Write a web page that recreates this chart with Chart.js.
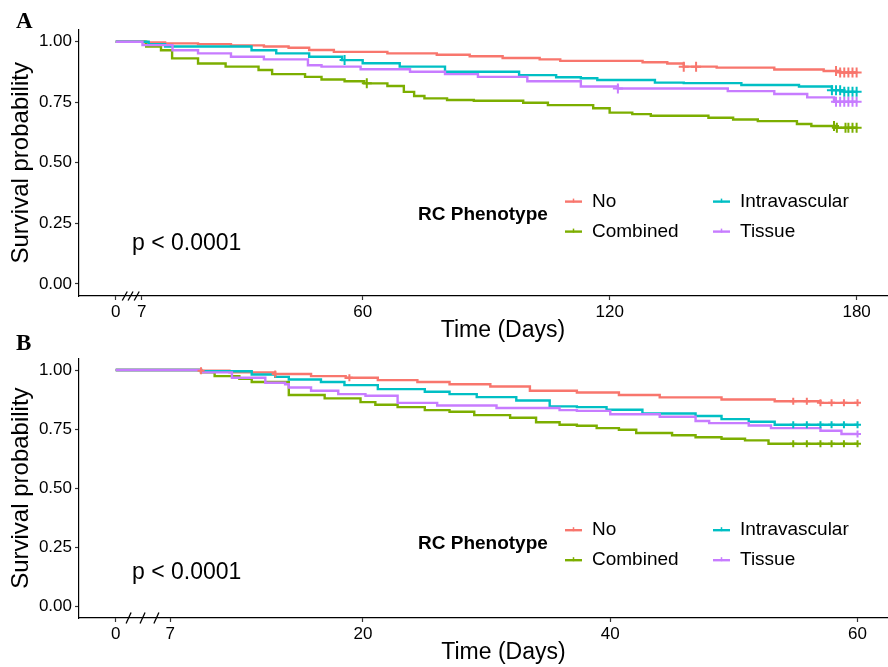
<!DOCTYPE html>
<html>
<head>
<meta charset="utf-8">
<script src="https://cdn.jsdelivr.net/npm/chart.js@4.4.1/dist/chart.umd.min.js"></script>
<style>
    html, body { margin: 0; padding: 0; background: #fff; overflow: hidden; width: 888px; height: 667px; }
    canvas { position: absolute; left: 0; }
    #chartA { top: 0; }
    #chartB { top: 345px; }
    .panelLabel { position: absolute; left: 16px; font: bold 23px "Liberation Serif", "Times New Roman", serif; line-height: 23px; color: #000; }
</style>
</head>
<body>
<canvas id="chartA" width="934" height="345"></canvas>
<canvas id="chartB" width="934" height="322"></canvas>
<div class="panelLabel" style="top:9px">A</div>
<div class="panelLabel" style="top:331px">B</div>
<script>
// grupos y colores (orden de la leyenda)
const groups = ['No', 'Combined', 'Intravascular', 'Tissue'];
const groupColors = ['#F8766D', '#7CAE00', '#00BFC4', '#C77CFF'];

// ---- Panel A: 180 dias ----
const noTimesA = [0, 7, 12, 20, 28, 36, 42, 47, 53, 66, 78, 86, 94, 103, 108, 128, 134, 138, 146, 160, 172, 176, 180];
const noSurvA = [1, 0.997, 0.993, 0.99, 0.985, 0.98, 0.975, 0.966, 0.958, 0.952, 0.946, 0.94, 0.933, 0.927, 0.921, 0.915, 0.91, 0.897, 0.893, 0.885, 0.879, 0.873, 0.873];
const noCensorA = [138, 141, 175, 176, 177, 178, 179, 180];

const combinedTimesA = [0, 7.4, 11, 13.7, 20, 26.7, 34.7, 38, 46, 50, 55.6, 60.4, 66, 70, 72.5, 75, 80.5, 87, 99, 105, 116, 120, 125.5, 130, 144, 150, 156, 165.5, 169, 175, 180];
const combinedSurvA = [1, 0.98, 0.965, 0.931, 0.91, 0.897, 0.883, 0.866, 0.855, 0.844, 0.837, 0.828, 0.817, 0.793, 0.776, 0.766, 0.759, 0.756, 0.748, 0.738, 0.725, 0.707, 0.701, 0.694, 0.686, 0.679, 0.672, 0.66, 0.652, 0.645, 0.645];
const combinedCensorA = [61, 174.5, 175.2, 177.3, 178, 179, 180];

const intraTimesA = [0, 8, 12, 33, 39, 47, 55, 60, 69, 80, 98, 107, 113, 117, 131, 138, 152, 166, 174, 177, 180];
const intraSurvA = [1, 0.99, 0.98, 0.965, 0.952, 0.938, 0.924, 0.911, 0.897, 0.876, 0.862, 0.853, 0.849, 0.842, 0.831, 0.829, 0.821, 0.815, 0.8, 0.793, 0.793];
const intraCensorA = [55.6, 174, 175, 176, 177, 178, 179, 180];

const tissueTimesA = [0, 6.5, 13.8, 20, 28, 36, 46.7, 50, 59.5, 71.5, 80, 88, 100, 113, 122, 148.7, 160, 168, 174.5, 180];
const tissueSurvA = [1, 0.986, 0.965, 0.952, 0.938, 0.927, 0.903, 0.897, 0.886, 0.876, 0.866, 0.855, 0.837, 0.815, 0.807, 0.796, 0.784, 0.77, 0.752, 0.752];
const tissueCensorA = [122, 175, 176, 177, 178, 179, 180];

const xTickValuesA = [0, 6.3, 60, 120, 180];
const xTickLabelsA = ['0', '7', '60', '120', '180'];
const axisBreaksA = [2.2, 3.6, 5.1];

// ---- Panel B: 60 dias ----
const noTimesB = [0, 6.9, 9.2, 12.9, 15.8, 18.6, 21.2, 24.4, 27, 30.3, 33.5, 37.3, 40.7, 44, 49, 53.3, 57, 60];
const noSurvB = [1, 0.997, 0.99, 0.983, 0.974, 0.967, 0.957, 0.949, 0.94, 0.93, 0.912, 0.905, 0.894, 0.884, 0.875, 0.868, 0.861, 0.861];
const noCensorB = [6.9, 12.9, 18.9, 54.8, 55.9, 57, 57.9, 58.9, 60];

const combinedTimesB = [0, 6.9, 8, 10, 11, 14, 16.9, 19.8, 21, 22.8, 25, 27, 29, 31.9, 34, 35.9, 37.3, 38.9, 40.7, 42.1, 45, 46.9, 49, 50.9, 52.8, 60];
const combinedSurvB = [1, 0.99, 0.974, 0.963, 0.949, 0.894, 0.88, 0.864, 0.853, 0.843, 0.83, 0.823, 0.809, 0.798, 0.779, 0.768, 0.764, 0.754, 0.747, 0.733, 0.724, 0.715, 0.709, 0.702, 0.688, 0.688];
const combinedCensorB = [54.8, 55.9, 57, 57.9, 58.9, 60];

const intraTimesB = [0, 6.9, 11, 12.9, 14, 16.6, 18.5, 21.2, 25, 27, 29.2, 32.4, 35.1, 37.3, 39.7, 42.6, 46.9, 49, 51.2, 53.3, 60];
const intraSurvB = [1, 0.995, 0.981, 0.971, 0.96, 0.949, 0.936, 0.919, 0.908, 0.898, 0.885, 0.871, 0.846, 0.843, 0.832, 0.816, 0.805, 0.792, 0.781, 0.768, 0.768];
const intraCensorB = [54.8, 55.9, 57, 57.9, 58.9, 60];

const tissueTimesB = [0, 6.9, 9.4, 12.1, 13.7, 14, 15.8, 18, 20.2, 22.8, 26, 30.8, 35.9, 37.3, 40, 44, 46.9, 48, 51.2, 53, 57, 58.7, 60];
const tissueSurvB = [1, 0.99, 0.967, 0.946, 0.94, 0.926, 0.912, 0.898, 0.891, 0.861, 0.85, 0.839, 0.83, 0.827, 0.813, 0.802, 0.784, 0.775, 0.765, 0.754, 0.743, 0.729, 0.729];
const tissueCensorB = [60];

const xTickValuesB = [0, 4.4, 20, 40, 60];
const xTickLabelsB = ['0', '7', '20', '40', '60'];
const axisBreaksB = [1.04, 2.17, 3.29];

const yTickValues = [0, 0.25, 0.5, 0.75, 1];

const fontFamily = '"Liberation Sans", Arial, Helvetica, sans-serif';


// valor de supervivencia en el tiempo t (funcion escalonada)
function survivalAt(times, surv, t) {
    let value = surv[0];
    for (let i = 0; i < times.length; i++) {
        if (times[i] <= t) value = surv[i];
    }
    return value;
}

function buildDatasets(series, censorRadius) {
    const datasets = [];
    series.forEach((s, i) => {
        const color = groupColors[i];
        datasets.push({
            label: groups[i],
            data: s.times.map((t, j) => ({ x: t, y: s.surv[j] })),
            borderColor: color,
            borderWidth: 2.4,
            stepped: true,
            pointRadius: 0,
            fill: false,
            order: 10 - i
        });
        // marcas de censura
        datasets.push({
            label: groups[i] + ' censor',
            data: s.censor.map(t => ({ x: t, y: survivalAt(s.times, s.surv, t) })),
            showLine: false,
            pointStyle: 'cross',
            pointRadius: censorRadius,
            pointBorderWidth: 2,
            pointBorderColor: color,
            pointBackgroundColor: color,
            order: 5 - i
        });
    });
    return datasets;
}

// leyenda, valor p y cortes del eje
const kmDecor = {
    id: 'kmDecor',
    afterDraw(chart) {
        const ctx = chart.ctx;
        const area = chart.chartArea;
        const xScale = chart.scales.x;
        const opts = chart.options.plugins.kmDecor;

        ctx.save();
        // cortes del eje x "///"
        ctx.strokeStyle = '#000';
        ctx.lineWidth = 1.3;
        opts.breaks.forEach(b => {
            const px = xScale.getPixelForValue(b);
            ctx.beginPath();
            ctx.moveTo(px - 2.5, area.bottom + opts.breakHeight / 2);
            ctx.lineTo(px + 2.5, area.bottom - opts.breakHeight / 2);
            ctx.stroke();
        });

        // valor p
        ctx.fillStyle = '#000';
        ctx.font = '23px ' + fontFamily;
        ctx.textAlign = 'left';
        ctx.textBaseline = 'alphabetic';
        ctx.fillText('p < 0.0001', area.left + 53, area.top + 220.4);

        // titulo de la leyenda
        ctx.font = 'bold 19px ' + fontFamily;
        ctx.textBaseline = 'middle';
        ctx.fillText('RC Phenotype', area.left + 339, area.top + 185.4);

        const colX = [486, 634];
        const rowY = [172, 202];
        groups.forEach((g, i) => {
            const kx = area.left + colX[Math.floor(i / 2)];
            const ky = area.top + rowY[i % 2];
            ctx.strokeStyle = groupColors[i];
            ctx.lineWidth = 2.4;
            ctx.beginPath();
            ctx.moveTo(kx, ky);
            ctx.lineTo(kx + 17, ky);
            ctx.stroke();
            ctx.lineWidth = 1.5;
            ctx.beginPath();
            ctx.moveTo(kx + 8.5, ky - 3);
            ctx.lineTo(kx + 8.5, ky + 1);
            ctx.stroke();
            ctx.fillStyle = '#000';
            ctx.font = '19px ' + fontFamily;
            ctx.fillText(g, kx + 27, ky);
        });
        ctx.restore();
    }
};

function crearGrafico(canvasId, series, cfg) {
    const ctx = document.getElementById(canvasId).getContext('2d');
    return new Chart(ctx, {
        type: 'line',
        data: { datasets: buildDatasets(series, cfg.censorRadius) },
        options: {
            responsive: false,
            animation: false,
            events: [],
            layout: { padding: { top: cfg.padTop, right: 0, bottom: 0, left: 0 } },
            scales: {
                x: {
                    type: 'linear',
                    min: cfg.xMin,
                    max: cfg.xMax,
                    afterBuildTicks: scale => {
                        scale.ticks = cfg.tickValues.map(v => ({ value: v }));
                    },
                    afterFit: scale => { scale.height = 49; },
                    ticks: {
                        autoSkip: false,
                        maxRotation: 0,
                        padding: 2,
                        color: '#000',
                        font: { family: fontFamily, size: 17 },
                        callback: (value, index) => cfg.tickLabels[index]
                    },
                    grid: { drawOnChartArea: false, drawTicks: true, tickLength: 4, tickColor: '#333', tickWidth: 1.2 },
                    border: { display: true, color: '#000', width: 1.2 },
                    title: {
                        display: true,
                        text: 'Time (Days)',
                        color: '#000',
                        font: { family: fontFamily, size: 23 },
                        padding: { top: 0, bottom: 1 }
                    }
                },
                y: {
                    min: -0.05,
                    max: 1.05,
                    afterBuildTicks: scale => {
                        scale.ticks = yTickValues.map(v => ({ value: v }));
                    },
                    afterFit: scale => { scale.width = 79; },
                    ticks: {
                        padding: 3,
                        color: '#000',
                        font: { family: fontFamily, size: 17 },
                        callback: value => Number(value).toFixed(2)
                    },
                    grid: { drawOnChartArea: false, drawTicks: true, tickLength: 4, tickColor: '#333', tickWidth: 1.2 },
                    border: { display: true, color: '#000', width: 1.2 },
                    title: {
                        display: true,
                        text: 'Survival probability',
                        color: '#000',
                        font: { family: fontFamily, size: 24 },
                        padding: { top: 7, bottom: 0 }
                    }
                }
            },
            plugins: {
                legend: { display: false },
                tooltip: { enabled: false },
                kmDecor: { breaks: cfg.breaks, breakHeight: cfg.breakHeight }
            }
        },
        plugins: [kmDecor]
    });
}

crearGrafico('chartA', [
    { times: noTimesA, surv: noSurvA, censor: noCensorA },
    { times: combinedTimesA, surv: combinedSurvA, censor: combinedCensorA },
    { times: intraTimesA, surv: intraSurvA, censor: intraCensorA },
    { times: tissueTimesA, surv: tissueSurvA, censor: tissueCensorA }
], {
    padTop: 29.6, xMin: -8.92, xMax: 197.1,
    tickValues: xTickValuesA, tickLabels: xTickLabelsA,
    breaks: axisBreaksA, breakHeight: 9, censorRadius: 5
});

crearGrafico('chartB', [
    { times: noTimesB, surv: noSurvB, censor: noCensorB },
    { times: combinedTimesB, surv: combinedSurvB, censor: combinedCensorB },
    { times: intraTimesB, surv: intraSurvB, censor: intraCensorB },
    { times: tissueTimesB, surv: tissueSurvB, censor: tissueCensorB }
], {
    padTop: 6.6, xMin: -2.97, xMax: 65.7,
    tickValues: xTickValuesB, tickLabels: xTickLabelsB,
    breaks: axisBreaksB, breakHeight: 11, censorRadius: 3.5
});
</script>
</body>
</html>
